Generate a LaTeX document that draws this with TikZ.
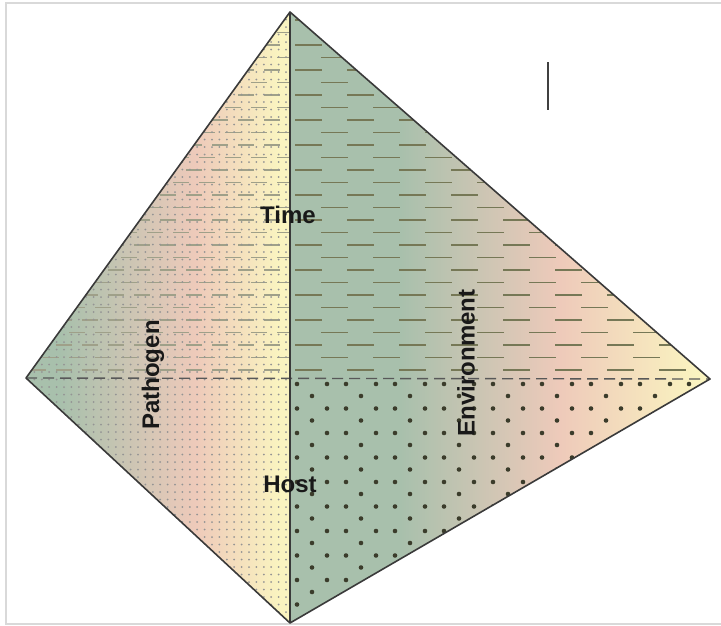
\documentclass[tikz,border=0pt]{standalone}
\usepackage{fontspec}
\setmainfont{Liberation Sans}
\usepackage{xcolor}
\usepackage{tikz}
\definecolor{facegreen}{RGB}{168,192,172}
\definecolor{facepink}{RGB}{238,202,186}
\definecolor{faceyellow}{RGB}{250,244,192}
\definecolor{edgegray}{RGB}{58,58,58}
\definecolor{dashol}{RGB}{118,120,86}
\tikzset{
    outline/.style={draw=edgegray, line width=1.6pt, line join=round},
    backedge/.style={draw=edgegray!85, line width=1.4pt, dash pattern=on 11pt off 6pt},
    hatch/.style={draw=dashol, line width=1.3pt},
    fainthatch/.style={draw=dashol!70, line width=1.1pt},
    finedot/.style={fill=black!42},
    bigdot/.style={fill=black!50!dashol},
    facelabel/.style={font=\fontsize{24}{28}\selectfont\bfseries, text=black!90, inner sep=0pt}
}

\begin{document}
\begin{tikzpicture}[x=1pt, y=-1pt]
    \useasboundingbox (0,0) rectangle (721,625);
    \coordinate (apex) at (290,12);
    \coordinate (west) at (26,378);
    \coordinate (east) at (710,379);
    \coordinate (base) at (290,623);
    \coordinate (mid) at (290,378);

    % frame
    \draw[gray!30, line width=2pt] (721,3) -- (6,3) -- (6,624) -- (721,624);

    % pathogen / host face
    \begin{scope}
        \clip (apex) -- (west) -- (base) -- cycle;
        \fill[facegreen] (26,0) rectangle (60,625);
        \fill[left color=facegreen, right color=facepink] (60,0) rectangle (195,625);
        \fill[left color=facepink, right color=faceyellow] (195,0) rectangle (280,625);
        \fill[faceyellow] (280,0) rectangle (290,625);
        \begin{scope}
            \clip (0,0) rectangle (290,375);
            \foreach \r in {0,...,28} {
                \pgfmathsetmacro\yy{20+12.5*\r}
                \pgfmathsetmacro\xo{30+13*mod(\r,2)}
                \foreach \k in {0,...,10}
                    \draw[fainthatch] (\xo+26*\k,\yy) -- ++(16,0);
            }
        \end{scope}
        \foreach \i in {0,...,36}
            \foreach \j in {0,...,82}
                \fill[finedot] (27+7.4*\i,12+7.5*\j) circle (1.0);
    \end{scope}

    % environment face
    \begin{scope}
        \clip (apex) -- (east) -- (base) -- cycle;
        \fill[facegreen] (290,0) rectangle (400,625);
        \fill[left color=facegreen, right color=facepink] (400,0) rectangle (560,625);
        \fill[left color=facepink, right color=faceyellow] (560,0) rectangle (700,625);
        \fill[faceyellow] (700,0) rectangle (712,625);
        \begin{scope}
            \clip (apex) -- (east) -- (mid) -- cycle;
            \foreach \r in {0,...,28} {
                \pgfmathsetmacro\yy{20+12.5*\r}
                \pgfmathsetmacro\xo{295+26*mod(\r,2)}
                \foreach \k in {0,...,8}
                    \draw[hatch] (\xo+52*\k,\yy) -- ++(27,0);
            }
        \end{scope}
        \foreach \m in {0,...,9} {
            \foreach \i in {0,...,8} {
                \fill[bigdot] (297+49*\i,384+24.5*\m) circle (2.3);
                \fill[bigdot] (327+49*\i,384+24.5*\m) circle (2.3);
                \fill[bigdot] (312+49*\i,396+24.5*\m) circle (2.3);
            }
        }
    \end{scope}

    % edges
    \draw[backedge] (west) -- (east);
    \draw[outline] (apex) -- (west) -- (base) -- (east) -- cycle;
    \draw[outline] (apex) -- (base);
    \draw[black!75, line width=1.5pt] (548,62) -- (548,110);

    \node[facelabel] (time) at (288,215) {Time};
    \node[facelabel, rotate=90] (pathogen) at (153,375) {Pathogen};
    \node[facelabel, rotate=90] (environment) at (466,363) {Environment};
    \node[facelabel] (host) at (290,484) {Host};
\end{tikzpicture}
\end{document}
